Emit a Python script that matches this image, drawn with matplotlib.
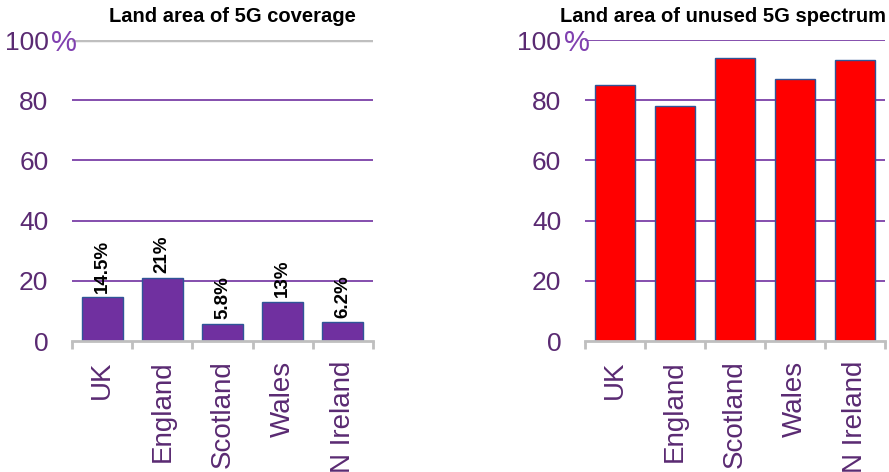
import numpy as np
import matplotlib.pyplot as plt

regions = ['UK', 'England', 'Scotland', 'Wales', 'N Ireland']
coverage = [14.5, 21, 5.8, 13, 6.2]
coverage_labels = ['14.5%', '21%', '5.8%', '13%', '6.2%']
unused = [85, 78, 94, 87, 93.5]
yticks = [0, 20, 40, 60, 80, 100]

plt.rcParams['font.family'] = ['Liberation Sans', 'DejaVu Sans']

purple = '#7030a0'
label_col = '#5a2a72'
edge = '#2f5597'

fig = plt.figure(figsize=(8.89, 4.72), dpi=100)
ax1 = fig.add_axes([0.081, 0.2775, 0.3386, 0.6377])
ax2 = fig.add_axes([0.658, 0.2775, 0.3375, 0.6377])

def style(ax, top_grey):
    x = np.arange(len(regions))
    ax.set_xlim(-0.5, len(regions) - 0.5)
    ax.set_ylim(0, 100)
    for v in yticks[1:]:
        c = '#bfbfbf' if (v == 100 and top_grey) else purple
        ax.axhline(v, color=c, lw=1.2 if c == purple else 2.5, zorder=0)
    for s in ['top', 'right', 'left']:
        ax.spines[s].set_visible(False)
    ax.spines['bottom'].set_color('#bfbfbf')
    ax.spines['bottom'].set_linewidth(2)
    ax.set_yticks(yticks)
    ax.set_yticklabels([str(v) for v in yticks])
    ax.tick_params(axis='y', length=0, pad=17, labelsize=19, labelcolor=label_col)
    ax.set_xticks(np.arange(-0.5, len(regions)), minor=True)
    ax.set_xticks(x)
    ax.set_xticklabels(regions, rotation=90, fontsize=20, color=label_col)
    ax.tick_params(axis='x', which='major', length=0, pad=14)
    ax.tick_params(axis='x', which='minor', length=6, width=2, color='#bfbfbf', direction='out')
    ax.annotate('%', xy=(0, 1.0), xycoords='axes fraction', xytext=(-21, -3),
                textcoords='offset pixels', fontsize=21, color='#8040b0',
                ha='left', va='center')

x = np.arange(len(regions))
style(ax1, True)
ax1.bar(x, coverage, width=0.68, color=purple, edgecolor=edge, lw=1, zorder=2)
for xi, v, t in zip(x, coverage, coverage_labels):
    ax1.text(xi, v + 1.5, t, rotation=90, ha='center', va='bottom',
             fontsize=13.5, fontweight='bold', color='black')
fig.text(232 / 889, 1 - 17 / 472, 'Land area of 5G coverage', fontsize=14.5,
         fontweight='bold', ha='center', va='center')

style(ax2, False)
ax2.bar(x, unused, width=0.68, color='#ff0000', edgecolor=edge, lw=1, zorder=2)
fig.text(560 / 889, 1 - 17 / 472, 'Land area of unused 5G spectrum', fontsize=14.5,
         fontweight='bold', ha='left', va='center')

fig.savefig('out.png', dpi=100)
